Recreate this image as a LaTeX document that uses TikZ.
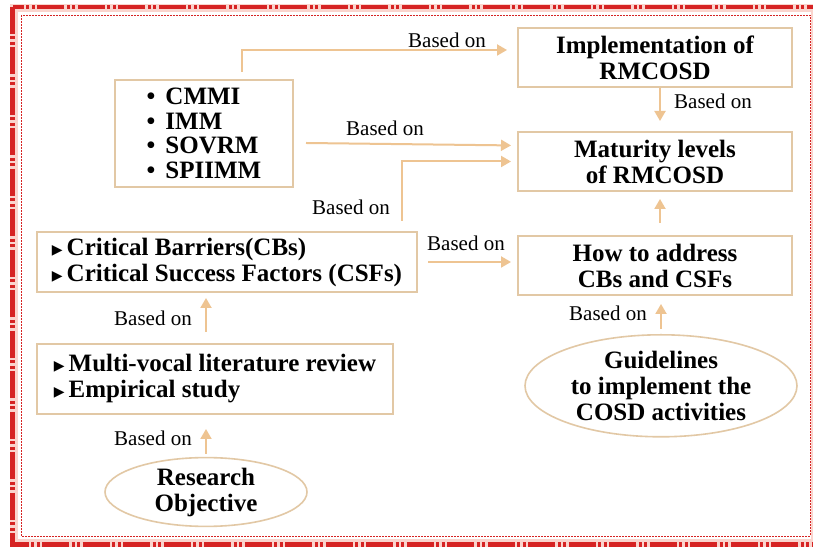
\documentclass[tikz,border=0pt]{standalone}
\usepackage{fontspec}
\setmainfont{Liberation Serif}
\newfontfamily\symf{DejaVu Sans}
\usetikzlibrary{arrows.meta,positioning,calc,shapes.geometric}
\definecolor{boxc}{RGB}{226,200,165}
\definecolor{arc}{RGB}{238,196,146}
\definecolor{redc}{RGB}{214,35,35}
\definecolor{pinkc}{RGB}{250,212,205}
\newcommand{\tri}{\raisebox{1pt}{\symf\fontsize{14}{14}\selectfont ▶}\hspace{4pt}}

\begin{document}
\begin{tikzpicture}[x=1pt, y=1pt,
  nd/.style={draw=boxc, line width=2pt, minimum height=59pt, inner sep=0pt,
             font=\fontsize{25}{26}\selectfont\bfseries, align=center, fill=white},
  el/.style={draw=boxc, ellipse, line width=1.6pt, inner sep=0pt,
             font=\fontsize{25}{26}\selectfont\bfseries, align=center},
  ar/.style={draw=arc, line width=2pt, -{Triangle[length=10pt,width=11pt]}},
  lb/.style={font=\fontsize{21}{21}\selectfont, inner sep=0pt}
]
  % frame
  \fill[white] (0,0) rectangle (813,548);
  \useasboundingbox (0,0) rectangle (813,548);
  \draw[pinkc, line width=8pt] (14,539.5) rectangle (815,4.5);
  \draw[redc, line width=4.5pt, dash pattern=on 27pt off 2.5pt on 3pt off 2.5pt on 3pt off 2.5pt]
    (12.5,541) rectangle (817,3.5);
  \draw[redc, line width=0.9pt, dash pattern=on 1.6pt off 1.4pt] (21,533) rectangle (810,12);

  % right column
  \node[nd, minimum width=274pt] (impl) at (655,490.5) {Implementation of\\RMCOSD};
  \node[nd, minimum width=274pt, below=43pt of impl] (mat) {Maturity levels\\of RMCOSD};
  \node[nd, minimum width=274pt, below=43pt of mat] (how) {How to address\\CBs and CSFs};
  \node[el, minimum width=272pt, minimum height=102pt, below=38pt of how, xshift=6pt] (guide)
    {Guidelines\\to implement the\\COSD activities};

  % left column
  \node[nd, minimum width=178pt, minimum height=107pt, align=left,
        font=\fontsize{25}{24.7}\selectfont\bfseries] (cmmi) at (204,414.5)
    {\textbullet\hspace{10pt}CMMI\\\textbullet\hspace{10pt}IMM\\\textbullet\hspace{10pt}SOVRM\\\textbullet\hspace{10pt}SPIIMM};
  \node[nd, minimum width=380pt, minimum height=60pt, align=left] (cb) at (227,286)
    {\tri Critical Barriers(CBs)\\\tri Critical Success Factors (CSFs)};
  \node[nd, minimum width=356pt, minimum height=70pt, align=left] (multi) at (215,169)
    {\tri Multi-vocal literature review\\\tri Empirical study};
  \node[el, minimum width=202pt, minimum height=65pt] (res) at (206,56) {Research\\Objective};

  % connectors
  \draw[ar, shorten <=7pt, shorten >=10pt] ([xshift=38pt]cmmi.north) |- ([yshift=7.5pt]impl.west);
  \draw[ar, shorten >=6pt] ($(cmmi.east)+(12,-9.5)$) -- ($(mat.west)+(0,16)$);
  \draw[ar, shorten <=10pt, shorten >=6pt] ([xshift=175pt]cb.north) |- (mat.west);
  \draw[ar, shorten <=10pt, shorten >=6pt] (cb.east) -- (cb.east -| how.west);
  \draw[ar, shorten >=10pt] ([xshift=5pt]impl.south) -- ([xshift=5pt]mat.north);
  \draw[ar, shorten <=12pt, shorten >=7pt] ([xshift=5pt]how.north) -- ([xshift=5pt]mat.south);
  \draw[ar, shorten <=5pt, shorten >=8pt] (guide.north) -- (guide.north |- how.south);
  \draw[ar, shorten <=11pt, shorten >=5pt] ([xshift=-9pt]multi.north) -- ([xshift=-9pt]multi.north |- cb.south);
  \draw[ar, shorten <=3pt, shorten >=14pt] (res.north) -- (res.north |- multi.south);

  % labels
  \node[lb] (b1) at (447,508) {Based on};
  \node[lb] (b2) at (385,420) {Based on};
  \node[lb] (b3) at (351,341) {Based on};
  \node[lb] (b4) at (466,305) {Based on};
  \node[lb] (b5) at (713,447) {Based on};
  \node[lb] (b6) at (608,235) {Based on};
  \node[lb] (b7) at (153,230) {Based on};
  \node[lb] (b8) at (153,110) {Based on};
\end{tikzpicture}
\end{document}
